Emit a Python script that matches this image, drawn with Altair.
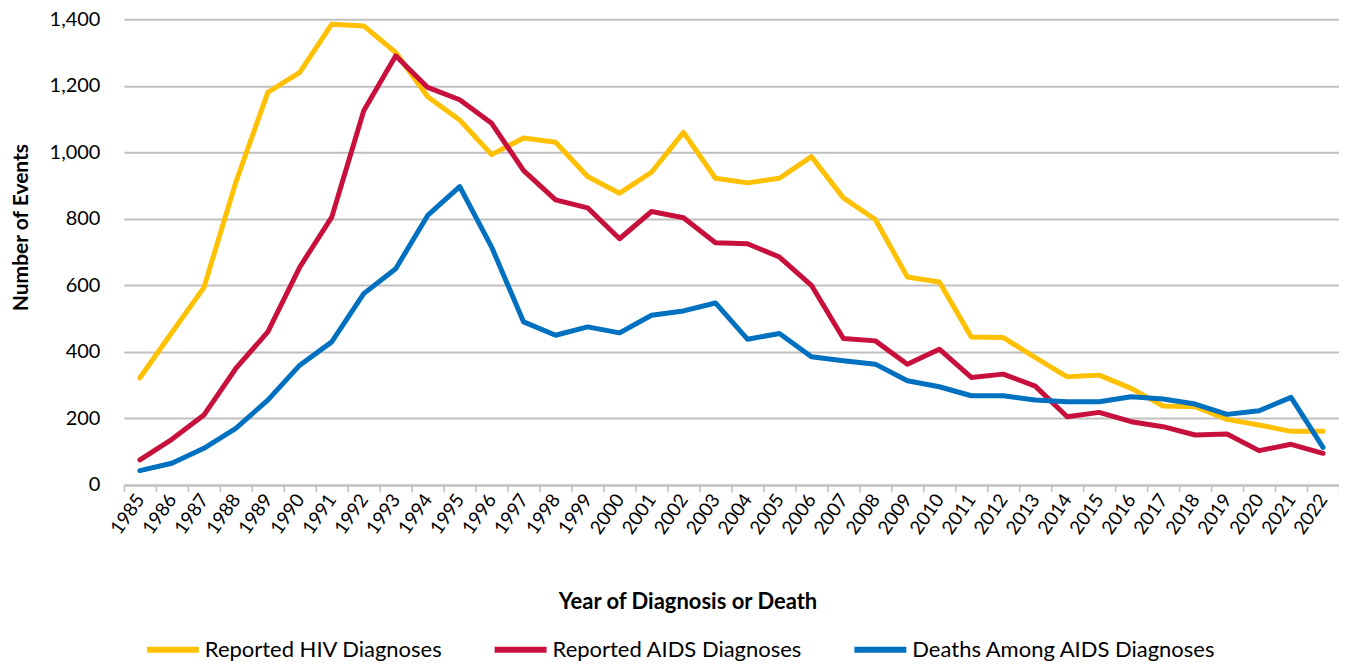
import altair as alt
import pandas as pd

years = list(range(1985, 2023))

hiv = [322, 458, 593, 910, 1180, 1240, 1385, 1380, 1300, 1167, 1097, 993,
       1043, 1030, 927, 877, 940, 1060, 922, 908, 922, 987, 863, 798,
       625, 610, 445, 443, 383, 325, 330, 290, 237, 235, 197, 180, 161, 161]
aids = [75, 137, 210, 350, 460, 655, 805, 1125, 1290, 1195, 1158, 1087,
        945, 857, 833, 740, 822, 803, 728, 725, 685, 600, 440, 433,
        363, 408, 323, 333, 297, 205, 218, 190, 175, 150, 153, 103, 122, 95]
deaths = [43, 65, 110, 170, 255, 360, 430, 575, 650, 810, 897, 715,
          490, 450, 475, 457, 510, 523, 547, 438, 455, 385, 373, 363,
          313, 295, 268, 268, 255, 250, 250, 265, 258, 243, 212, 223, 263, 113]

series_names = ["Reported HIV Diagnoses", "Reported AIDS Diagnoses",
                "Deaths Among AIDS Diagnoses"]
series_colors = ["#FFC000", "#C8103C", "#0070C0"]

rows = []
for name, vals in zip(series_names, [hiv, aids, deaths]):
    for y, v in zip(years, vals):
        rows.append({"year": str(y), "value": v, "series": name})
df = pd.DataFrame(rows)

FONT = "Lato"

chart = alt.Chart(df).mark_line(strokeWidth=5, strokeJoin="round", strokeCap="round").encode(
    x=alt.X("year:O",
            scale=alt.Scale(type="band", paddingInner=0, paddingOuter=0),
            axis=alt.Axis(title="Year of Diagnosis or Death",
                          tickBand="extent", labelAngle=-55,
                          labelFontSize=19, labelFont=FONT, labelColor="#000000",
                          labelPadding=4,
                          tickColor="#BFBFBF", tickSize=7, tickWidth=1.5,
                          domainColor="#BFBFBF", domainWidth=2,
                          grid=False,
                          titleFont=FONT, titleFontSize=22, titleFontWeight="bold",
                          titleColor="#000000",
                          titleX=564, titleY=117, titleBaseline="middle")),
    y=alt.Y("value:Q",
            scale=alt.Scale(domain=[0, 1400]),
            axis=alt.Axis(title="Number of Events", values=list(range(0, 1401, 200)),
                          format=",.0f", domain=False, ticks=False,
                          labelFontSize=20, labelFont=FONT, labelColor="#000000",
                          labelPadding=24,
                          gridColor="#BFBFBF", gridWidth=2,
                          titleFont=FONT, titleFontSize=21, titleFontWeight="bold",
                          titleColor="#000000",
                          titleX=-102, titleY=208, titleBaseline="middle",
                          titleAngle=-90, titleAlign="center")),
    color=alt.Color("series:N",
                    scale=alt.Scale(domain=series_names, range=series_colors),
                    sort=series_names,
                    legend=alt.Legend(title=None, orient="none", direction="horizontal",
                                      legendX=20, legendY=602,
                                      symbolType="stroke", symbolSize=2700,
                                      symbolStrokeWidth=6,
                                      labelFont=FONT, labelFontSize=22,
                                      labelColor="#000000",
                                      labelLimit=400, labelOffset=3,
                                      columnPadding=40)),
    detail="series:N",
).properties(
    width=1216, height=466,
    padding={"left": 116, "top": 11, "right": 0, "bottom": 178},
    autosize=alt.AutoSizeParams(type="none"),
).configure_view(stroke=None)

chart.save("out.html", embed_options={"renderer": "svg", "actions": False})
